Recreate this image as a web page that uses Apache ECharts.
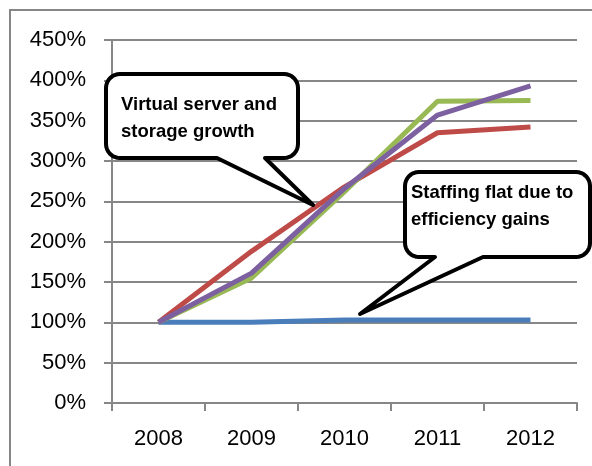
<!DOCTYPE html>
<html>
<head>
<meta charset="utf-8">
<script src="https://cdn.jsdelivr.net/npm/echarts@6/dist/echarts.min.js"></script>
<style>
  html, body { margin: 0; padding: 0; background: #fff; }
  #chart { width: 592px; height: 466px; }
</style>
</head>
<body>
<div id="chart"></div>
<script>
  // years on the x axis
  var years = ['2008', '2009', '2010', '2011', '2012'];
  // growth relative to 2008 (%)
  var staffing = [100, 100, 103, 103, 103];
  var serverA = [100, 188, 268, 335, 342];
  var storage = [100, 155, 262, 374, 375];
  var serverB = [100, 161, 266, 357, 393];

  var calloutGrowth = 'Virtual server and\nstorage growth';
  var calloutStaff = 'Staffing flat due to\nefficiency gains';

  var myChart = echarts.init(document.getElementById('chart'));
  var gridColor = '#878787';
  var fontFam = '"Liberation Sans", Arial, sans-serif';

  var lineSeries = function(name, data, color) {
    return {
      name: name,
      type: 'line',
      data: data,
      symbol: 'none',
      smooth: false,
      lineStyle: { color: color, width: 5 },
      itemStyle: { color: color }
    };
  };

  // outline of a rounded box with a pointer from its bottom edge
  var calloutShape = function(x0, y0, x1, y1, r, baseL, baseR, tipX, tipY) {
    var pts = [];
    var arc = function(cx, cy, a0, a1) {
      for (var i = 0; i <= 8; i++) {
        var a = a0 + (a1 - a0) * i / 8;
        pts.push([cx + r * Math.cos(a), cy + r * Math.sin(a)]);
      }
    };
    arc(x0 + r, y0 + r, Math.PI, Math.PI * 1.5);
    arc(x1 - r, y0 + r, Math.PI * 1.5, Math.PI * 2);
    arc(x1 - r, y1 - r, 0, Math.PI * 0.5);
    pts.push([baseR, y1]);
    pts.push([tipX, tipY]);
    pts.push([baseL, y1]);
    arc(x0 + r, y1 - r, Math.PI * 0.5, Math.PI);
    return pts;
  };

  var option = {
    animation: false,
    backgroundColor: '#fff',
    grid: { left: 112, right: 15, top: 40, bottom: 63 },
    xAxis: {
      type: 'category',
      data: years,
      boundaryGap: true,
      axisLine: { lineStyle: { color: gridColor, width: 2 } },
      axisTick: { show: true, length: 8, lineStyle: { color: gridColor, width: 2 } },
      axisLabel: { color: '#000', fontSize: 22, fontFamily: fontFam, margin: 25 },
      splitLine: { show: false }
    },
    yAxis: {
      type: 'value',
      min: 0,
      max: 450,
      interval: 50,
      axisLine: { show: true, lineStyle: { color: gridColor, width: 2 } },
      axisTick: { show: true, length: 8, lineStyle: { color: gridColor, width: 2 } },
      axisLabel: { color: '#000', fontSize: 22, fontFamily: fontFam, margin: 26, formatter: '{value}%' },
      splitLine: { show: true, lineStyle: { color: gridColor, width: 2 } }
    },
    series: [
      lineSeries('Staffing', staffing, '#4a7ebb'),
      lineSeries('Virtual servers', serverA, '#be4b48'),
      lineSeries('Storage', storage, '#98b954'),
      lineSeries('Virtual servers total', serverB, '#7d60a0')
    ],
    graphic: [
      {
        type: 'rect', z: 1, silent: true,
        shape: { x: 10, y: 10, width: 700, height: 600 },
        style: { fill: 'none', stroke: gridColor, lineWidth: 2 }
      },
      {
        type: 'polygon', z: 100,
        shape: { points: calloutShape(106, 74, 298, 158, 14, 217, 265, 313, 205) },
        style: { fill: '#fff', stroke: '#000', lineWidth: 4, lineJoin: 'round' }
      },
      {
        type: 'text', z: 101, x: 121, y: 91,
        style: { text: calloutGrowth, font: 'bold 18.5px ' + fontFam, fill: '#000', lineHeight: 27, verticalAlign: 'top' }
      },
      {
        type: 'polygon', z: 100,
        shape: { points: calloutShape(405, 172, 590, 257, 14, 435, 483, 360, 314) },
        style: { fill: '#fff', stroke: '#000', lineWidth: 4, lineJoin: 'round' }
      },
      {
        type: 'text', z: 101, x: 411, y: 179,
        style: { text: calloutStaff, font: 'bold 18.5px ' + fontFam, fill: '#000', lineHeight: 27, verticalAlign: 'top' }
      }
    ]
  };
  myChart.setOption(option);
  window.onresize = myChart.resize;
</script>
</body>
</html>
